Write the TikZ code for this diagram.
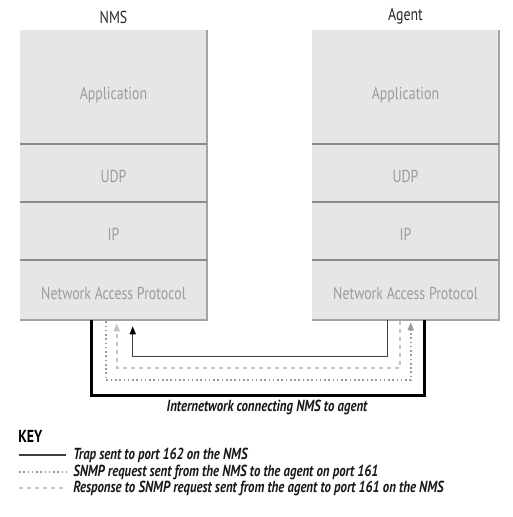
\documentclass[tikz,border=0pt]{standalone}
\usepackage{fontspec}
\setmainfont{PT Sans}[FakeStretch=0.80]
\usetikzlibrary{arrows.meta,positioning}
\definecolor{layerfill}{HTML}{E6E6E8}
\definecolor{layertext}{HTML}{9C9C9E}
\definecolor{divider}{HTML}{8C8C8E}
\definecolor{boxshade}{HTML}{A4A4A6}
\definecolor{reqgray}{HTML}{9A9A9A}
\definecolor{respgray}{HTML}{C4C4C4}
\tikzset{
 layer/.style={fill=layerfill, text=layertext, inner sep=0pt, minimum width=140.25pt,
   text height=14pt, text depth=0pt, font=\fontsize{13}{15}\selectfont},
 divline/.style={draw=divider, line width=1.3pt},
 shade/.style={draw=boxshade, line width=1.6pt},
 stacklabel/.style={text=black!85, font=\fontsize{13}{15}\selectfont},
 inet/.style={line width=2.2pt, black},
 trap/.style={line width=1pt, black!75, -{Triangle[length=6pt, width=4.5pt, black]}},
 request/.style={line width=1.2pt, reqgray, dotted, -{Triangle[length=6pt, width=4.5pt, reqgray]}},
 response/.style={line width=1.2pt, respgray, dash pattern=on 3pt off 3pt, -{Triangle[length=6pt, width=4.5pt, respgray]}},
 caption/.style={font=\fontsize{12}{14}\selectfont\bfseries\itshape, text=black!90, inner sep=0pt},
}
\begin{document}
\begin{tikzpicture}[x=0.75pt, y=-0.75pt]
 \useasboundingbox (0,0) rectangle (513,517);
 % NMS stack
 \node[layer, minimum height=85.5pt, text height=18pt] (nmsApp) at (113.5, 87) {Application};
 \node[layer, minimum height=43.5pt] (nmsUdp) at (113.5,173) {UDP};
 \node[layer, minimum height=43.5pt] (nmsIp)  at (113.5,231) {IP};
 \node[layer, minimum height=45pt]   (nmsNap) at (113.5,290) {Network Access Protocol};
 % Agent stack
 \node[layer, minimum height=85.5pt, text height=18pt] (agApp) at (405.5, 87) {Application};
 \node[layer, minimum height=43.5pt] (agUdp) at (405.5,173) {UDP};
 \node[layer, minimum height=43.5pt] (agIp)  at (405.5,231) {IP};
 \node[layer, minimum height=45pt]   (agNap) at (405.5,290) {Network Access Protocol};
 \draw[shade] (nmsApp.north east) -- (nmsNap.south east) -- (nmsNap.south west);
 \draw[shade] (agApp.north east) -- (agNap.south east) -- (agNap.south west);
 \draw[divline] (nmsApp.south west) -- (nmsApp.south east);
 \draw[divline] (nmsUdp.south west) -- (nmsUdp.south east);
 \draw[divline] (nmsIp.south west) -- (nmsIp.south east);
 \draw[divline] (agApp.south west) -- (agApp.south east);
 \draw[divline] (agUdp.south west) -- (agUdp.south east);
 \draw[divline] (agIp.south west) -- (agIp.south east);
 \node[stacklabel, above=1pt of nmsApp] (nmsLabel) {NMS};
 \node[stacklabel, above=1pt of agApp] (agLabel) {Agent};
 % connections between the two stacks
 \draw[inet] ([shift={(72,0)}]nmsNap.south west) -- ++(0,75) -| ([shift={(113,0)}]agNap.south west);
 \draw[trap] ([shift={(76,0)}]agNap.south west) -- ++(0,36) -| ([shift={(113,6)}]nmsNap.south west);
 \draw[request] ([shift={(86,1)}]nmsNap.south west) -- ++(0,59) -| ([shift={(99,2)}]agNap.south west);
 \draw[response] ([shift={(88,1)}]agNap.south west) -- ++(0,47) -| ([shift={(97,3)}]nmsNap.south west);
 \node[caption] (inetLabel) at (267,407) {Internetwork connecting NMS to agent};
 % key
 \node[anchor=west, inner sep=0pt, font=\fontsize{13}{15}\selectfont\bfseries] (keyTitle) at (18,436) {KEY};
 \node[caption, anchor=west] (trapKey) at (73,455) {Trap sent to port 162 on the NMS};
 \node[caption, anchor=west] (reqKey)  at (73,472) {SNMP request sent from the NMS to the agent on port 161};
 \node[caption, anchor=west] (respKey) at (73,488) {Response to SNMP request sent from the agent to port 161 on the NMS};
 \coordinate (trapStart) at (19,455);
 \coordinate (reqStart)  at (19,472);
 \coordinate (respStart) at (19,488);
 \draw[trap, -] (trapStart) -- ([xshift=-5pt]trapKey.west);
 \draw[request, -] (reqStart) -- ([xshift=-5pt]reqKey.west);
 \draw[response, -] (respStart) -- ([xshift=-5pt]respKey.west);
\end{tikzpicture}
\end{document}
